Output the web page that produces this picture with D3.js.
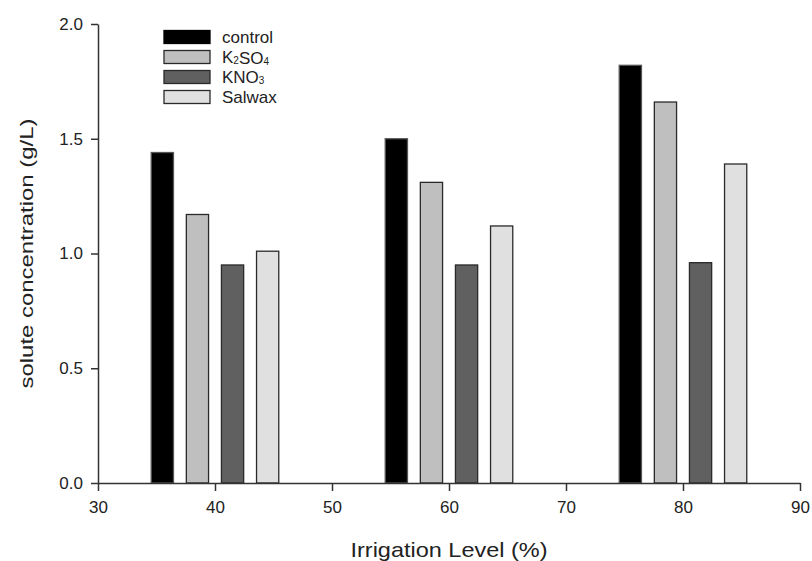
<!DOCTYPE html>
<html>
<head>
<meta charset="utf-8">
<script src="https://cdn.jsdelivr.net/npm/d3@7"></script>
<style>
  body { margin: 0; background: #fff; }
  text { font-family: "Liberation Sans", Arial, sans-serif; fill: #222; }
</style>
</head>
<body>
<svg id="chart" width="812" height="561"></svg>
<script>
// irrigation levels (%) on the x axis
const levels = [40, 60, 80];
const seriesNames = ["control", "K2SO4", "KNO3", "Salwax"];
// solute concentration (g/L), one value per irrigation level
const control = [1.44, 1.50, 1.82];
const k2so4 = [1.17, 1.31, 1.66];
const kno3 = [0.95, 0.95, 0.96];
const salwax = [1.01, 1.12, 1.39];
const xTicks = [30, 40, 50, 60, 70, 80, 90];
const yTicks = [0, 0.5, 1.0, 1.5, 2.0];

const seriesValues = [control, k2so4, kno3, salwax];
const fills = ["#000000", "#bfbfbf", "#606060", "#e0e0e0"];
const offsets = [-4.5, -1.5, 1.5, 4.5]; // bar centre offset from level, in % units
const barW = 1.9;

const svg = d3.select("#chart");

const x = d3.scaleLinear().domain([30, 90]).range([98, 800]);
const y = d3.scaleLinear().domain([0, 2]).range([483, 24]);

// bars
const bars = [];
seriesValues.forEach((vals, s) => {
  vals.forEach((v, i) => bars.push({ s, level: levels[i], value: v }));
});

svg.append("g")
  .selectAll("rect")
  .data(bars)
  .enter().append("rect")
  .attr("x", d => x(d.level + offsets[d.s] - barW / 2))
  .attr("width", d => x(barW) - x(0))
  .attr("y", d => y(d.value))
  .attr("height", d => y(0) - y(d.value))
  .attr("fill", d => fills[d.s])
  .attr("stroke", d => d.s === 0 ? "#555" : "#2a2a2a")
  .attr("stroke-width", 1.3);

// axes
const xAxis = svg.append("g")
  .attr("transform", `translate(0,${y(0)})`)
  .call(d3.axisBottom(x).tickValues(xTicks).tickSize(8).tickSizeOuter(0).tickPadding(10));

const yAxis = svg.append("g")
  .attr("transform", `translate(${x(30)},0)`)
  .call(d3.axisLeft(y).tickValues(yTicks).tickFormat(d3.format(".1f")).tickSize(7).tickSizeOuter(0).tickPadding(8));

[xAxis, yAxis].forEach(g => {
  g.select(".domain").attr("stroke", "#333").attr("stroke-width", 1.5);
  g.selectAll(".tick line").attr("stroke", "#333").attr("stroke-width", 1.5);
  g.selectAll(".tick text")
    .style("font-family", "Liberation Sans, Arial, sans-serif")
    .style("font-size", "17px")
    .attr("fill", "#222");
});

// axis titles
svg.append("text")
  .attr("x", (x(30) + x(90)) / 2)
  .attr("y", 557)
  .attr("text-anchor", "middle")
  .attr("textLength", 197)
  .attr("lengthAdjust", "spacingAndGlyphs")
  .style("font-size", "21px")
  .text("Irrigation Level (%)");

svg.append("text")
  .attr("transform", `translate(33,${(y(0) + y(2)) / 2}) rotate(-90)`)
  .attr("text-anchor", "middle")
  .attr("textLength", 270)
  .attr("lengthAdjust", "spacingAndGlyphs")
  .style("font-size", "19px")
  .text("solute concentration (g/L)");

// legend
const legendLabels = [
  [["control", false]],
  [["K", false], ["2", true], ["SO", false], ["4", true]],
  [["KNO", false], ["3", true]],
  [["Salwax", false]]
];

const legend = svg.append("g").attr("transform", "translate(164,37)");
const rows = legend.selectAll("g")
  .data(seriesNames)
  .enter().append("g")
  .attr("transform", (d, i) => `translate(0,${i * 20})`);

rows.append("rect")
  .attr("x", 0).attr("y", -6.5)
  .attr("width", 46).attr("height", 13)
  .attr("fill", (d, i) => fills[i])
  .attr("stroke", (d, i) => i === 0 ? "#000" : "#2a2a2a")
  .attr("stroke-width", 1.3);

rows.append("text")
  .attr("x", 58)
  .attr("y", 6)
  .style("font-size", "17px")
  .each(function(d, i) {
    const t = d3.select(this);
    legendLabels[i].forEach(([str, sub]) => {
      const ts = t.append("tspan").text(str);
      if (sub) ts.style("font-size", "10px").attr("dy", 1);
      else ts.attr("dy", 0);
    });
  });
</script>
</body>
</html>
